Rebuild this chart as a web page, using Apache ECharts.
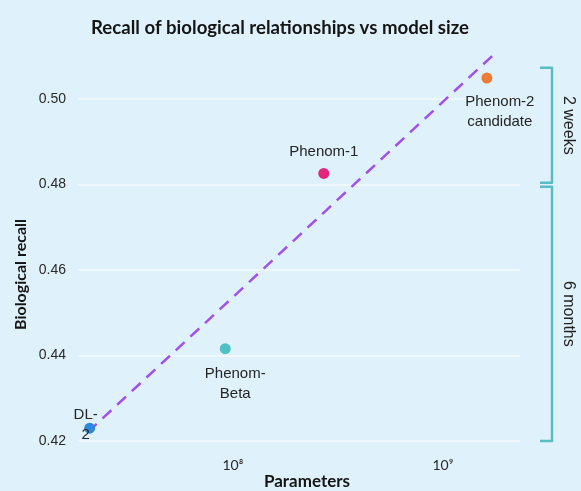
<!DOCTYPE html>
<html>
<head>
<meta charset="utf-8">
<script src="https://cdn.jsdelivr.net/npm/echarts@6/dist/echarts.min.js"></script>
<style>
  html, body { margin: 0; padding: 0; background: #dff1fa; }
  #main { width: 581px; height: 491px; }
</style>
</head>
<body>
<div id="main"></div>
<script>
// models, parameter counts and recall
var models = ['DL-\n2', 'Phenom-\nBeta', 'Phenom-1', 'Phenom-2\ncandidate'];
var params = [2.08e7, 9.2e7, 2.71e8, 1.62e9];
var recall = [0.423, 0.4416, 0.4826, 0.5049];
var pointColors = ['#2f87dc', '#4fc0c4', '#e2247c', '#ef7b36'];
// dashed fit line end points
var trendX = [2.04e7, 1.8e9];
var trendY = [0.4221, 0.511];
// brackets on the right side (recall ranges)
var brackets = [
  { text: '2 weeks', from: 0.4804, to: 0.5073 },
  { text: '6 months', from: 0.42, to: 0.4795 }
];

var labelCfg = [
  { position: 'inside', offset: [-4, -3] },
  { position: 'bottom', distance: 10, offset: [10, 0] },
  { position: 'top', distance: 6 },
  { position: 'bottom', distance: 8, offset: [13, 0] }
];

var supers = { 7: '\u2077', 8: '\u2078', 9: '\u2079' };

var myChart = echarts.init(document.getElementById('main'));
var option = {
  backgroundColor: '#dff1fa',
  title: {
    text: 'Recall of biological relationships vs model size',
    left: 275,
    textAlign: 'center',
    top: 13,
    textStyle: {
      fontFamily: 'Lato',
      fontWeight: 'bold',
      fontSize: 18.6,
      color: '#151515'
    }
  },
  grid: { left: 78, right: 61, top: 52, bottom: 50, outerBoundsMode: 'none' },
  xAxis: {
    type: 'log',
    min: 1.83e7,
    max: 2.33e9,
    name: 'Parameters',
    nameLocation: 'middle',
    nameGap: 32,
    nameMoveOverlap: false,
    nameTextStyle: {
      fontFamily: 'Lato',
      fontWeight: 'bold',
      fontSize: 17,
      color: '#151515',
      padding: [0, 0, 0, 16]
    },
    axisLine: { show: false },
    axisTick: { show: false },
    splitLine: { show: false },
    axisLabel: {
      margin: 17,
      fontFamily: 'Lato',
      fontSize: 14,
      color: '#2a2a2a',
      formatter: function (v) {
        var e = Math.log10(v);
        if (Math.abs(e - Math.round(e)) > 1e-6) return '';
        return '10' + (supers[Math.round(e)] || '');
      }
    }
  },
  yAxis: {
    type: 'value',
    min: 0.42,
    max: 0.511,
    interval: 0.02,
    name: 'Biological recall',
    nameLocation: 'middle',
    nameGap: 49,
    nameMoveOverlap: false,
    nameTextStyle: {
      fontFamily: 'Lato',
      fontWeight: 'bold',
      fontSize: 16,
      color: '#151515',
      padding: [0, 56, 0, 0]
    },
    axisLine: { show: false },
    axisTick: { show: false },
    splitLine: {
      show: true,
      showMaxLine: false,
      lineStyle: { color: '#f4fbfe', width: 1.5 }
    },
    axisLabel: {
      margin: 12,
      fontFamily: 'Liberation Sans',
      fontSize: 14,
      color: '#2a2a2a',
      showMaxLabel: false,
      formatter: function (v) { return v.toFixed(2); }
    }
  },
  series: [
    {
      type: 'line',
      data: [[trendX[0], trendY[0]], [trendX[1], trendY[1]]],
      symbol: 'none',
      silent: true,
      z: 3,
      lineStyle: { color: '#a24ff0', width: 2.5, type: [12, 8] }
    },
    {
      type: 'scatter',
      symbolSize: 11,
      z: 4,
      silent: true,
      emphasis: { disabled: true },
      data: models.map(function (m, i) {
        return {
          name: m,
          value: [params[i], recall[i]],
          itemStyle: { color: pointColors[i], opacity: 1 },
          label: labelCfg[i]
        };
      }),
      label: {
        show: true,
        formatter: '{b}',
        fontFamily: 'Liberation Sans',
        fontSize: 15,
        lineHeight: 20,
        color: '#252525'
      }
    }
  ]
};
myChart.setOption(option);

// draw the brackets from the y axis scale
var gfx = [];
brackets.forEach(function (b) {
  var y1 = myChart.convertToPixel({ yAxisIndex: 0 }, b.to);
  var y2 = myChart.convertToPixel({ yAxisIndex: 0 }, b.from);
  gfx.push({
    type: 'polyline',
    shape: { points: [[540, y1], [552, y1], [552, y2], [540, y2]], smooth: 0 },
    style: { stroke: '#5bbcc3', lineWidth: 2.5, fill: null, lineJoin: 'round' }
  });
  gfx.push({
    type: 'text',
    x: 568,
    y: (y1 + y2) / 2,
    rotation: -Math.PI / 2,
    style: {
      text: b.text,
      fontFamily: 'Liberation Sans',
      fontSize: 16,
      fill: '#222',
      align: 'center',
      verticalAlign: 'middle'
    }
  });
});
myChart.setOption({ graphic: gfx });
</script>
</body>
</html>
